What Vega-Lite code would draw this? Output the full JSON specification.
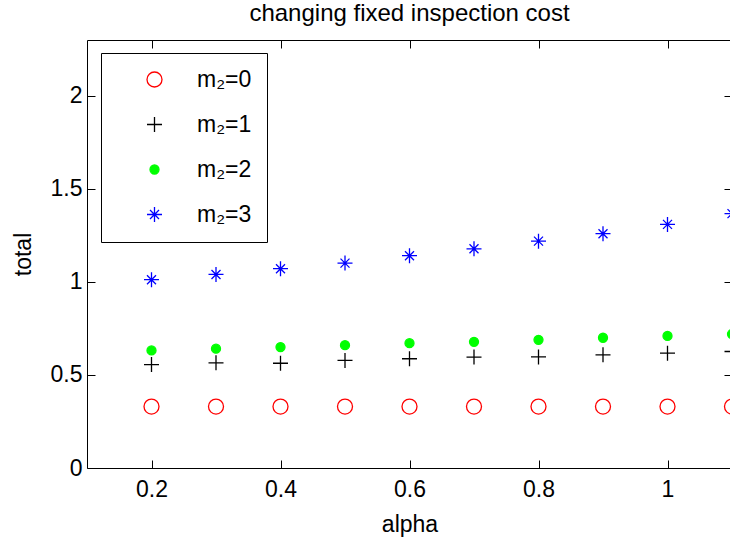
{
  "$schema": "https://vega.github.io/schema/vega-lite/v6.json",
  "width": 645,
  "height": 428,
  "autosize": "none",
  "padding": {"left": 87, "top": 40, "right": -2, "bottom": 71},
  "background": "white",
  "title": {"text": "changing fixed inspection cost", "frame": "group", "anchor": "middle", "offset": -5, "baseline": "alphabetic", "font": "Liberation Sans", "fontSize": 24, "fontWeight": "normal", "color": "black"},
  "data": {"values": [
    {"alpha": 0.2, "total": 0.33, "series": "m₂=0"},
    {"alpha": 0.3, "total": 0.33, "series": "m₂=0"},
    {"alpha": 0.4, "total": 0.33, "series": "m₂=0"},
    {"alpha": 0.5, "total": 0.33, "series": "m₂=0"},
    {"alpha": 0.6, "total": 0.33, "series": "m₂=0"},
    {"alpha": 0.7, "total": 0.33, "series": "m₂=0"},
    {"alpha": 0.8, "total": 0.33, "series": "m₂=0"},
    {"alpha": 0.9, "total": 0.33, "series": "m₂=0"},
    {"alpha": 1.0, "total": 0.33, "series": "m₂=0"},
    {"alpha": 1.1, "total": 0.33, "series": "m₂=0"},
    {"alpha": 0.2, "total": 0.556, "series": "m₂=1"},
    {"alpha": 0.3, "total": 0.565, "series": "m₂=1"},
    {"alpha": 0.4, "total": 0.563, "series": "m₂=1"},
    {"alpha": 0.5, "total": 0.578, "series": "m₂=1"},
    {"alpha": 0.6, "total": 0.587, "series": "m₂=1"},
    {"alpha": 0.7, "total": 0.596, "series": "m₂=1"},
    {"alpha": 0.8, "total": 0.597, "series": "m₂=1"},
    {"alpha": 0.9, "total": 0.608, "series": "m₂=1"},
    {"alpha": 1.0, "total": 0.617, "series": "m₂=1"},
    {"alpha": 1.1, "total": 0.626, "series": "m₂=1"},
    {"alpha": 0.2, "total": 0.632, "series": "m₂=2"},
    {"alpha": 0.3, "total": 0.641, "series": "m₂=2"},
    {"alpha": 0.4, "total": 0.650, "series": "m₂=2"},
    {"alpha": 0.5, "total": 0.660, "series": "m₂=2"},
    {"alpha": 0.6, "total": 0.671, "series": "m₂=2"},
    {"alpha": 0.7, "total": 0.678, "series": "m₂=2"},
    {"alpha": 0.8, "total": 0.689, "series": "m₂=2"},
    {"alpha": 0.9, "total": 0.700, "series": "m₂=2"},
    {"alpha": 1.0, "total": 0.710, "series": "m₂=2"},
    {"alpha": 1.1, "total": 0.720, "series": "m₂=2"},
    {"alpha": 0.2, "total": 1.012, "series": "m₂=3"},
    {"alpha": 0.3, "total": 1.040, "series": "m₂=3"},
    {"alpha": 0.4, "total": 1.071, "series": "m₂=3"},
    {"alpha": 0.5, "total": 1.101, "series": "m₂=3"},
    {"alpha": 0.6, "total": 1.141, "series": "m₂=3"},
    {"alpha": 0.7, "total": 1.178, "series": "m₂=3"},
    {"alpha": 0.8, "total": 1.219, "series": "m₂=3"},
    {"alpha": 0.9, "total": 1.259, "series": "m₂=3"},
    {"alpha": 1.0, "total": 1.309, "series": "m₂=3"},
    {"alpha": 1.1, "total": 1.367, "series": "m₂=3"}
  ]},
  "config": {
    "font": "Liberation Sans",
    "view": {"stroke": "black", "strokeWidth": 1},
    "axis": {
      "grid": false, "domain": false,
      "tickColor": "black", "tickWidth": 1, "tickSize": -8,
      "labelColor": "black", "labelFont": "Liberation Sans", "labelFontSize": 23,
      "titleColor": "black", "titleFont": "Liberation Sans", "titleFontSize": 23, "titleFontWeight": "normal"
    },
    "legend": {
      "orient": "none", "legendX": 14, "legendY": 13,
      "strokeColor": "black", "fillColor": "white", "padding": 15,
      "symbolOffset": 27, "labelOffset": 31, "rowPadding": 21,
      "labelFont": "Liberation Sans", "labelFontSize": 23, "labelColor": "black",
      "symbolSize": 225, "symbolStrokeWidth": 1.3, "symbolOpacity": 1,
      "title": null
    }
  },
  "layer": [
    {
      "mark": {"type": "point", "size": 225, "strokeWidth": 1.3, "opacity": 1},
      "encoding": {
        "x": {"field": "alpha", "type": "quantitative",
              "scale": {"domain": [0.1, 1.1], "nice": false, "zero": false},
              "axis": {"orient": "bottom", "values": [0.2, 0.4, 0.6, 0.8, 1.0], "format": "~g", "labelPadding": 18, "title": "alpha", "titlePadding": 12}},
        "y": {"field": "total", "type": "quantitative",
              "scale": {"domain": [0, 2.3], "nice": false, "zero": false},
              "axis": {"orient": "left", "values": [0, 0.5, 1, 1.5, 2], "format": "~g", "labelPadding": 13, "title": "total", "titlePadding": 15}},
        "shape": {"field": "series", "type": "nominal",
                  "scale": {"domain": ["m₂=0", "m₂=1", "m₂=2", "m₂=3"],
                            "range": ["circle", "M-1,0L1,0M0,-1L0,1", "M0.6,0A0.6,0.6,0,1,1,-0.6,0A0.6,0.6,0,1,1,0.6,0Z", "M-1,0L1,0M0,-1L0,1M-0.6,-0.6L0.6,0.6M-0.6,0.6L0.6,-0.6"]},
                  "legend": {"title": null}},
        "stroke": {"field": "series", "type": "nominal",
                   "scale": {"domain": ["m₂=0", "m₂=1", "m₂=2", "m₂=3"], "range": ["#ff0000", "#000000", "#00ff00", "#0000ff"]},
                   "legend": {"title": null}},
        "fill": {"field": "series", "type": "nominal",
                 "scale": {"domain": ["m₂=0", "m₂=1", "m₂=2", "m₂=3"], "range": ["transparent", "transparent", "#00ff00", "transparent"]},
                 "legend": {"title": null}}
      }
    },
    {
      "mark": {"type": "point", "opacity": 0},
      "encoding": {
        "x": {"field": "alpha", "type": "quantitative",
              "axis": {"orient": "top", "values": [0.2, 0.4, 0.6, 0.8, 1.0], "labels": false, "title": null}},
        "y": {"field": "total", "type": "quantitative",
              "axis": {"orient": "right", "values": [0, 0.5, 1, 1.5, 2], "labels": false, "title": null}}
      }
    }
  ],
  "resolve": {"axis": {"x": "independent", "y": "independent"}}
}
